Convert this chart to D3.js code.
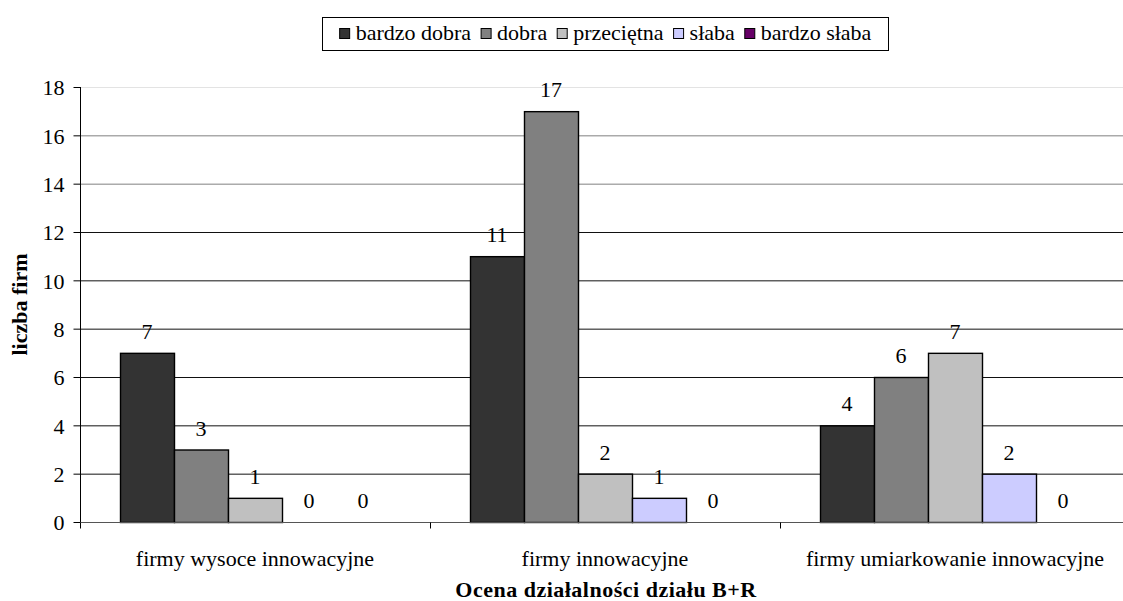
<!DOCTYPE html>
<html><head><meta charset="utf-8">
<script src="https://cdn.jsdelivr.net/npm/d3@7"></script>
<style>body{margin:0;background:#fff}svg{display:block}svg text{font-family:"Liberation Serif","Times New Roman",Times,"DejaVu Serif",serif !important}</style>
</head><body><svg id="c" width="1123" height="601"></svg>
<script>
const categories = ["firmy wysoce innowacyjne", "firmy innowacyjne", "firmy umiarkowanie innowacyjne"];
const seriesNames = ["bardzo dobra", "dobra", "przeciętna", "słaba", "bardzo słaba"];
const seriesColors = ["#333333", "#808080", "#c0c0c0", "#ccccff", "#660066"];
const bardzoDobra = [7, 11, 4];
const dobra = [3, 17, 6];
const przecietna = [1, 2, 7];
const slaba = [0, 1, 2];
const bardzoSlaba = [0, 0, 0];
const yTicks = [0, 2, 4, 6, 8, 10, 12, 14, 16, 18];
const seriesValues = [bardzoDobra, dobra, przecietna, slaba, bardzoSlaba];

const FS = 22;
const svg = d3.select("#c");
const L = 80, R = 1130, T = 87, B = 522;
const x0 = d3.scaleBand().domain(categories).range([L, R]).paddingInner(0).paddingOuter(0);
const y = d3.scaleLinear().domain([0, 18]).range([B, T]);

// gridlines
const gridColor = v => v === 18 ? "#e3e3e3" : (v === 16 || v === 14 ? "#808080" : "#111");
svg.append("g").selectAll("line").data(yTicks.filter(v => v > 0)).join("line")
  .attr("x1", L).attr("x2", R).attr("y1", d => y(d) + 0.5).attr("y2", d => y(d) + 0.5)
  .attr("stroke", gridColor).attr("stroke-width", 1);

// bars
const data = [];
categories.forEach((c, ci) => seriesNames.forEach((s, si) => data.push({c, s, si, v: seriesValues[si][ci]})));
const bw = 54;
const off = (x0.bandwidth() - bw * 5) / 2;
const bx = d => x0(d.c) + off + d.si * bw;
svg.append("g").selectAll("rect").data(data.filter(d => d.v > 0)).join("rect")
  .attr("x", d => bx(d) + 0.5).attr("y", d => y(d.v) + 0.5)
  .attr("width", bw).attr("height", d => y(0) - y(d.v))
  .attr("fill", d => seriesColors[d.si]).attr("stroke", "#000").attr("stroke-width", 1.4);

// value labels
svg.append("g").selectAll("text").data(data).join("text")
  .attr("x", d => bx(d) + bw / 2).attr("y", d => y(d.v) - 14)
  .attr("text-anchor", "middle").attr("font-size", FS).attr("fill", "#000")
  .text(d => d.v);

// y axis
const yAxis = svg.append("g").attr("transform", `translate(${L + 0.5},0)`)
  .call(d3.axisLeft(y).tickValues(yTicks).tickSize(7).tickPadding(9).tickFormat(d3.format("d")));
yAxis.select(".domain").attr("stroke", "#000").attr("d", `M-0,${T}V${B}`);
yAxis.selectAll(".tick line").attr("stroke", "#000");
yAxis.selectAll(".tick text").attr("font-size", FS).attr("fill", "#000").attr("dy", "0.35em");

// x axis
const xAxis = svg.append("g").attr("transform", `translate(0,${B + 0.5})`);
xAxis.append("line").attr("x1", L).attr("x2", R).attr("stroke", "#555");
xAxis.selectAll("line.t").data([L, ...categories.map(c => x0(c) + x0.bandwidth())]).join("line")
  .attr("class", "t").attr("x1", d => d + 0.5).attr("x2", d => d + 0.5).attr("y1", 0).attr("y2", 6).attr("stroke", "#000");
xAxis.selectAll("text").data(categories).join("text")
  .attr("x", d => x0(d) + x0.bandwidth() / 2).attr("y", 43)
  .attr("text-anchor", "middle").attr("font-size", FS).text(d => d);

// axis titles
svg.append("text").attr("transform", `translate(27,${(T + B) / 2}) rotate(-90)`)
  .attr("text-anchor", "middle").attr("font-size", FS).attr("font-weight", "bold").text("liczba firm");
svg.append("text").attr("x", 606).attr("y", 597).attr("text-anchor", "middle")
  .attr("font-size", FS).attr("font-weight", "bold").attr("letter-spacing", 0.5).text("Ocena działalności działu B+R");

// legend
const lg = svg.append("g");
lg.append("rect").attr("x", 322.5).attr("y", 17.5).attr("width", 566).attr("height", 33)
  .attr("fill", "#fff").attr("stroke", "#000");
const items = lg.selectAll("g").data(seriesNames).join("g");
items.append("rect").attr("y", 28.5).attr("width", 10).attr("height", 10)
  .attr("fill", (d, i) => seriesColors[i]).attr("stroke", "#000");
items.append("text").attr("x", 16).attr("y", 40).attr("font-size", FS).text(d => d);
let total = 0;
const widths = [];
items.each(function() { const w = 16 + d3.select(this).select("text").node().getComputedTextLength(); widths.push(w); total += w; });
const gap = 10;
total += gap * (seriesNames.length - 1);
let lx = 322 + (566 - total) / 2;
items.each(function(d, i) { d3.select(this).attr("transform", `translate(${lx + 0.5},0)`); lx += widths[i] + gap; });
</script></body></html>
